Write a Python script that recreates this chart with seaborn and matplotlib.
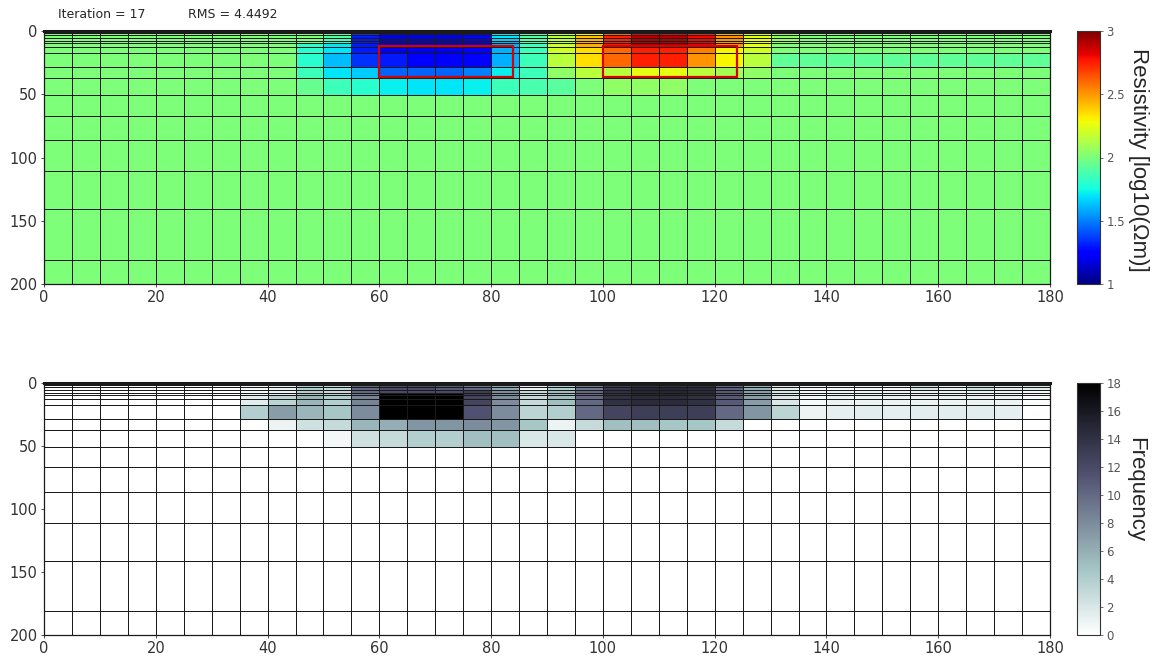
import numpy as np
import matplotlib
matplotlib.use("Agg")
import matplotlib.pyplot as plt
from matplotlib.patches import Rectangle
from matplotlib.ticker import FormatStrFormatter, FuncFormatter
import seaborn as sns

# grid
x_edges = np.arange(0, 185, 5)
depth_edges = [0, 1.5, 3.5, 5.5, 7.7, 9.8, 13, 17.7, 28.5, 37.5, 50.5,
               67, 86.5, 111, 141, 181, 200]

iteration = 17
rms = 4.4492

# log10 resistivity, upper 10 layers, one list per column (x = 45 ... 130)
res_background = 2.0
res_first_x = 45
res_cols = [
    [2.0, 2.0, 2.0, 2.0, 1.95, 1.8, 1.8, 1.8, 1.85, 1.95],
    [1.9, 1.9, 1.9, 1.85, 1.8, 1.7, 1.7, 1.62, 1.7, 1.85],
    [1.8, 1.35, 1.3, 1.3, 1.3, 1.3, 1.3, 1.35, 1.65, 1.8],
    [1.75, 1.25, 1.2, 1.2, 1.2, 1.2, 1.2, 1.3, 1.45, 1.72],
    [1.75, 1.2, 1.2, 1.2, 1.2, 1.2, 1.2, 1.22, 1.45, 1.7],
    [1.75, 1.2, 1.2, 1.2, 1.2, 1.2, 1.2, 1.22, 1.45, 1.7],
    [1.75, 1.25, 1.25, 1.25, 1.25, 1.25, 1.25, 1.25, 1.5, 1.72],
    [1.85, 1.7, 1.7, 1.65, 1.6, 1.6, 1.6, 1.6, 1.72, 1.85],
    [1.9, 1.9, 1.9, 1.9, 1.85, 1.85, 1.85, 1.85, 1.85, 1.88],
    [2.15, 2.15, 2.15, 2.15, 2.15, 2.2, 2.2, 2.15, 2.05, 1.92],
    [2.2, 2.3, 2.4, 2.45, 2.45, 2.45, 2.35, 2.35, 2.15, 2.0],
    [2.3, 2.6, 2.75, 2.75, 2.75, 2.75, 2.6, 2.6, 2.15, 2.05],
    [2.35, 2.8, 2.9, 2.9, 2.9, 2.9, 2.75, 2.75, 2.25, 2.05],
    [2.35, 2.8, 2.9, 2.9, 2.9, 2.9, 2.75, 2.75, 2.25, 2.05],
    [2.3, 2.75, 2.8, 2.8, 2.8, 2.8, 2.55, 2.5, 2.15, 2.0],
    [2.2, 2.45, 2.5, 2.5, 2.5, 2.5, 2.3, 2.3, 2.1, 2.0],
    [2.15, 2.2, 2.25, 2.25, 2.25, 2.25, 2.2, 2.15, 2.05, 2.0],
    [2.05, 2.05, 2.05, 2.05, 2.05, 2.0, 2.0, 1.93, 2.0, 2.0],
]
res_east_layer7 = 1.93   # slightly lower layer east of x = 135

# selection frequency, upper 10 layers, one list per column (x = 35 ... 175)
freq_surface = 5
freq_first_x = 35
freq_cols = [
    [5, 0.5, 0.5, 0.5, 1, 1.5, 1.5, 4, 0, 0],
    [5, 1, 1, 1, 2, 3.5, 3.5, 7, 1, 0],
    [6, 4, 4, 4, 5, 5.5, 5.5, 5.5, 2.5, 0],
    [6, 3, 3, 3, 4, 4, 4, 4.5, 3, 0.7],
    [8, 10, 10, 10, 9, 8.5, 8.5, 8, 5.5, 2.5],
    [9, 12, 12, 12, 18, 18, 18, 18, 6, 3],
    [9, 12, 12, 12, 18, 18, 18, 18, 7.5, 4],
    [9, 11, 11, 12, 18, 18, 18, 18, 7.5, 4],
    [8, 9, 10, 13, 13, 12.5, 12.5, 11.5, 8, 5],
    [7, 6.5, 6.5, 8, 8, 8, 8, 8, 7.5, 5],
    [6, 1, 1, 3, 3, 3, 3, 3.5, 4.5, 2],
    [6, 4, 4, 5, 5, 5, 5, 4, 1, 2],
    [7, 9, 9, 10, 10, 10, 10, 10, 3, 0],
    [8, 13, 13.5, 14, 14, 14, 14, 12.5, 5, 0],
    [8, 14, 15, 15, 15, 14.5, 14.5, 13, 5, 0],
    [8, 14, 15, 15, 15, 14.5, 14.5, 13, 4.5, 0],
    [8, 14, 14.5, 14.5, 14.5, 14, 14, 13, 4.5, 0],
    [8, 10, 10.5, 11, 11, 11, 11, 10, 3, 0],
    [7, 6, 6, 7, 7, 7, 7, 7.5, 0, 0],
    [6, 1.5, 1.5, 2, 2, 2, 2, 3.5, 0, 0],
    [5, 0.5, 0.5, 0.5, 0.5, 0.5, 0.5, 1, 0, 0],
    [5, 0.5, 0.5, 1, 1, 1, 1, 1.3, 0, 0],
    [5, 0.5, 0.5, 1, 1, 1, 1, 1.5, 0, 0],
    [5, 0.5, 0.5, 1, 1, 1, 1, 1.3, 0, 0],
    [5, 2, 2, 1, 1, 1, 1, 1.5, 0, 0],
    [5, 1, 1, 1, 1, 1, 1, 1.5, 0, 0],
    [5, 2.5, 2.5, 1, 1, 1, 1, 1.5, 0, 0],
    [5, 1.5, 1.5, 1, 1, 1, 1, 1.3, 0, 0],
    [5, 1.5, 1.5, 0.5, 0.3, 0.3, 0.3, 0, 0, 0],
]

# target bodies: (x, depth, width, height)
targets = [(60, 12, 24, 24), (100, 12, 24, 24)]


def build_grid(cols, first_x, background):
    n_rows = len(depth_edges) - 1
    n_cols = len(x_edges) - 1
    grid = np.full((n_rows, n_cols), background, dtype=float)
    block = np.array(cols, dtype=float).T
    c0 = int(first_x // 5)
    grid[:block.shape[0], c0:c0 + block.shape[1]] = block
    return grid


res = build_grid(res_cols, res_first_x, res_background)
res[7, 27:] = res_east_layer7
freq = build_grid(freq_cols, freq_first_x, 0.0)
freq[0, :int(freq_first_x // 5)] = freq_surface

sns.set_theme(style="white")
plt.rcParams['font.family'] = ['DejaVu Sans']

fig = plt.figure(figsize=(11.56, 6.6), dpi=100)
W, H = 1156, 660


def px_axes(left, top, right, bottom):
    return fig.add_axes([left / W, 1 - bottom / H, (right - left) / W, (bottom - top) / H])


def style_axes(ax):
    ax.set_xlim(0, 180)
    ax.set_ylim(200, 0)
    ax.set_xticks(np.arange(0, 181, 20))
    ax.set_yticks([0, 50, 100, 150, 200])
    ax.tick_params(axis='both', direction='out', length=2.5, width=0.6,
                   labelsize=10.5, colors='#333333', bottom=True, left=True, pad=2)
    for s in ax.spines.values():
        s.set_visible(True)
        s.set_color('k')
        s.set_linewidth(0.9)
    ax.spines['top'].set_linewidth(2.2)


def style_cbar(cb, cax, ticks, fmt):
    cb.set_ticks(ticks)
    cax.yaxis.set_major_formatter(fmt)
    cax.tick_params(labelsize=8.5, colors='#555555', length=2.5, width=0.6,
                    right=True, pad=2)
    cb.outline.set_linewidth(0.8)
    cb.outline.set_edgecolor('#333333')


# resistivity model
ax1 = px_axes(44, 31, 1050, 284)
m1 = ax1.pcolormesh(x_edges, depth_edges, res, cmap='jet', vmin=1, vmax=3,
                    edgecolors='k', linewidth=0.65)
style_axes(ax1)
for x, d, w, h in targets:
    ax1.add_patch(Rectangle((x, d), w, h, fill=False, edgecolor='#d80000', linewidth=1.6))
cax1 = px_axes(1077, 31, 1100, 284)
cb1 = fig.colorbar(m1, cax=cax1)
style_cbar(cb1, cax1, [1, 1.5, 2, 2.5, 3], FuncFormatter(lambda v, p: f'{v:g}'))
fig.text(1139 / W, 1 - 160 / H, 'Resistivity [log10(\u03a9m)]', rotation=-90,
         ha='center', va='center', fontsize=16, family=['Liberation Sans', 'DejaVu Sans'])

fig.text(58 / W, 1 - 14 / H, f'Iteration = {iteration}', fontsize=9,
         color='#262626', va='center')
fig.text(188 / W, 1 - 14 / H, f'RMS = {rms}', fontsize=9,
         color='#262626', va='center')

# selection frequency
ax2 = px_axes(44, 383, 1050, 635)
m2 = ax2.pcolormesh(x_edges, depth_edges, freq,
                    cmap=sns.color_palette('bone_r', as_cmap=True), vmin=0, vmax=18,
                    edgecolors='k', linewidth=0.65)
style_axes(ax2)
cax2 = px_axes(1077, 383, 1100, 635)
cb2 = fig.colorbar(m2, cax=cax2)
style_cbar(cb2, cax2, np.arange(0, 19, 2), FormatStrFormatter('%d'))
fig.text(1136 / W, 1 - 490 / H, 'Frequency', rotation=-90,
         ha='center', va='center', fontsize=16, family=['Liberation Sans', 'DejaVu Sans'])

fig.savefig('out.png', dpi=100)
